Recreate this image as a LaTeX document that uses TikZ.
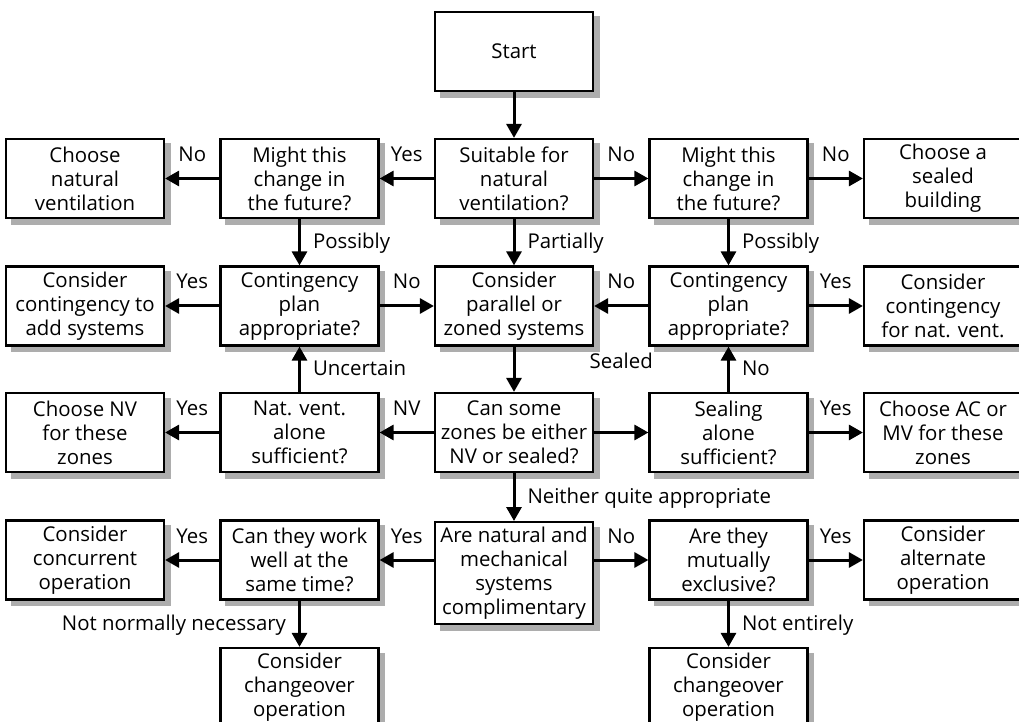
\documentclass[tikz,border=0pt]{standalone}
\usepackage{fontspec}
\setmainfont{Open Sans}
\usetikzlibrary{arrows.meta,backgrounds}

\tikzset{
  box/.style={draw, line width=1.1pt, fill=white, minimum width=79pt, minimum height=39.5pt,
    align=center, inner sep=1pt, font=\fontsize{10.2}{12}\selectfont},
  arr/.style={line width=1.5pt, -{Triangle[length=7pt,width=7.5pt]}},
  lab/.style={font=\fontsize{10.2}{12}\selectfont, inner sep=0pt},
  hlab/.style={lab, midway, anchor=base, yshift=8.5pt},
  rlab/.style={lab, midway, anchor=base west, xshift=6pt, yshift=-3.2pt},
  llab/.style={lab, midway, anchor=base east, xshift=-6pt, yshift=-3.2pt},
}

\begin{document}
\begin{tikzpicture}[x=0.5pt,y=-0.5pt]
  \useasboundingbox (0,0) rectangle (1019,722);

  % top
  \node [box] (start) at (514,51.5) {Start};

  % row 1
  \node [box] (natvent) at (85,178.5)    {Choose\\natural\\ventilation};
  \node [box] (mightL)  at (299.5,178.5) {Might this\\change in\\the future?};
  \node [box] (suit)    at (514,178.5)   {Suitable for\\natural\\ventilation?};
  \node [box] (mightR)  at (728.5,178.5) {Might this\\change in\\the future?};
  \node [box] (sealbld) at (943,178.5)   {Choose a\\sealed\\building};

  % row 2
  \node [box] (addsys)   at (85,306)    {Consider\\contingency to\\add systems};
  \node [box] (contL)    at (299.5,306) {Contingency\\plan\\appropriate?};
  \node [box] (parallel) at (514,306)   {Consider\\parallel or\\zoned systems};
  \node [box] (contR)    at (728.5,306) {Contingency\\plan\\appropriate?};
  \node [box] (contnv)   at (943,306)   {Consider\\contingency\\for nat. vent.};

  % row 3
  \node [box] (chooseNV)  at (85,432.5)    {Choose NV\\for these\\zones};
  \node [box] (natalone)  at (299.5,432.5) {Nat. vent.\\alone\\sufficient?};
  \node [box] (zones)     at (514,432.5)   {Can some\\zones be either\\NV or sealed?};
  \node [box] (sealalone) at (728.5,432.5) {Sealing\\alone\\sufficient?};
  \node [box] (chooseAC)  at (943,432.5)   {Choose AC or\\MV for these\\zones};

  % row 4
  \node [box] (concurrent) at (85,560)    {Consider\\concurrent\\operation};
  \node [box] (canwork)    at (299.5,560) {Can they work\\well at the\\same time?};
  \node [box, anchor=north, minimum height=51pt] (compl) at (514,521)
    {Are natural and\\mechanical\\systems\\complimentary};
  \node [box] (mutual)     at (728.5,560) {Are they\\mutually\\exclusive?};
  \node [box] (alternate)  at (943,560)   {Consider\\alternate\\operation};

  % row 5
  \node [box] (chgL) at (299.5,687.5) {Consider\\changeover\\operation};
  \node [box] (chgR) at (728.5,687.5) {Consider\\changeover\\operation};

  % shadows
  \begin{scope}[on background layer]
    \foreach \n in {start,natvent,mightL,suit,mightR,sealbld,addsys,contL,parallel,contR,contnv,
        chooseNV,natalone,zones,sealalone,chooseAC,concurrent,canwork,compl,mutual,alternate,chgL,chgR}
      \fill [black!32] ([shift={(2.8pt,-2.8pt)}]\n.south west) rectangle ([shift={(2.8pt,-2.8pt)}]\n.north east);
  \end{scope}

  % connectors
  \draw [arr] (start) -- (suit);
  \draw [arr] (suit) -- (mightL) node [hlab] {Yes};
  \draw [arr] (suit) -- (mightR) node [hlab] {No};
  \draw [arr] (mightL) -- (natvent) node [hlab] {No};
  \draw [arr] (mightR) -- (sealbld) node [hlab] {No};
  \draw [arr] (mightL) -- (contL) node [rlab] {Possibly};
  \draw [arr] (suit) -- (parallel) node [rlab] {Partially};
  \draw [arr] (mightR) -- (contR) node [rlab] {Possibly};

  \draw [arr] (contL) -- (addsys) node [hlab] {Yes};
  \draw [arr] (contL) -- (parallel) node [hlab] {No};
  \draw [arr] (contR) -- (parallel) node [hlab] {No};
  \draw [arr] (contR) -- (contnv) node [hlab] {Yes};
  \draw [arr] (parallel) -- (zones);

  \draw [arr] (zones) -- (natalone) node [hlab] {NV};
  \draw [arr] (zones) -- (sealalone) node [hlab, yshift=23.5pt] {Sealed};
  \draw [arr] (natalone) -- (contL) node [rlab] {Uncertain};
  \draw [arr] (natalone) -- (chooseNV) node [hlab] {Yes};
  \draw [arr] (sealalone) -- (contR) node [rlab] {No};
  \draw [arr] (sealalone) -- (chooseAC) node [hlab] {Yes};
  \draw [arr] (zones) -- (compl) node [rlab] {Neither quite appropriate};

  \draw [arr] (compl.west |- canwork.east) -- (canwork.east) node [hlab] {Yes};
  \draw [arr] (compl.east |- mutual.west) -- (mutual.west) node [hlab] {No};
  \draw [arr] (canwork) -- (concurrent) node [hlab] {Yes};
  \draw [arr] (canwork) -- (chgL) node [llab] {Not normally necessary};
  \draw [arr] (mutual) -- (alternate) node [hlab] {Yes};
  \draw [arr] (mutual) -- (chgR) node [rlab] {Not entirely};
\end{tikzpicture}
\end{document}
